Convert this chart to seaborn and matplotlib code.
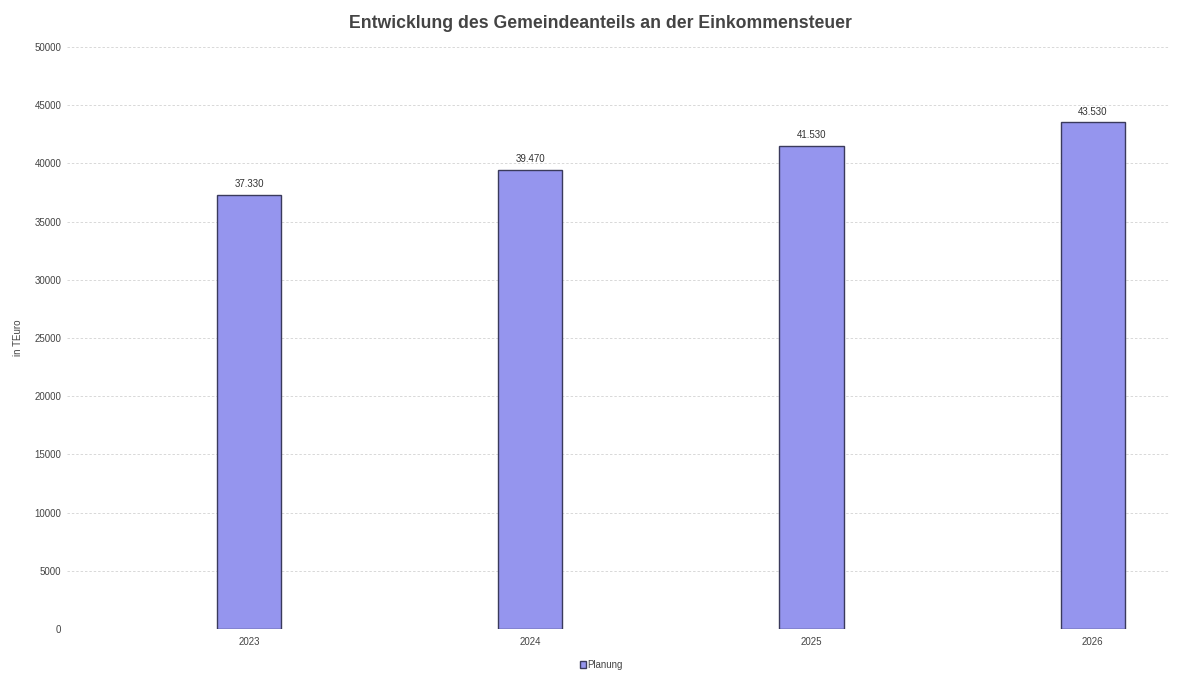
import matplotlib
matplotlib.use("Agg")
import matplotlib.pyplot as plt
import seaborn as sns
import pandas as pd
from matplotlib.patches import Patch

years = ["2023", "2024", "2025", "2026"]
planung = [37330, 39470, 41530, 43530]
y_ticks = list(range(0, 50001, 5000))
series_name = "Planung"
title = "Entwicklung des Gemeindeanteils an der Einkommensteuer"
y_label = "in TEuro"

df = pd.DataFrame({"Jahr": years, "Wert": planung})

sns.set_theme(style="white")
plt.rcParams["font.family"] = ["Liberation Sans", "DejaVu Sans"]

fig = plt.figure(figsize=(11.84, 6.73), dpi=100)
ax = fig.add_axes([0.0566, 0.0654, 0.9314, 0.8646])

bar_color = "#9595ee"
edge_color = "#3a3a5c"
sns.barplot(data=df, x="Jahr", y="Wert", ax=ax, color=bar_color,
            width=0.228, edgecolor=edge_color, linewidth=1.0, saturation=1)

ax.set_xlim(-0.647, 3.274)
ax.set_ylim(0, 50000)
ax.set_yticks(y_ticks)
ax.set_yticklabels([str(v) for v in y_ticks])
ax.yaxis.grid(True, linestyle=(0, (2.5, 2)), color="#d8d8d8", linewidth=0.7)
ax.set_axisbelow(True)
for s in ax.spines.values():
    s.set_visible(False)
ax.tick_params(axis="both", length=0, labelsize=7, labelcolor="#444444")
ax.tick_params(axis="y", pad=4)
ax.tick_params(axis="x", pad=6)
ax.set_xlabel("")
ax.set_ylabel(y_label, fontsize=7, color="#444444")
ax.yaxis.set_label_coords(-0.04, 0.5)

for i, v in enumerate(planung):
    ax.text(i, v + 500, f"{v:,}".replace(",", "."), ha="center", va="bottom",
            fontsize=7, color="#333333")

fig.suptitle(title, x=0.507, y=0.977, fontsize=12.7, fontweight="bold", color="#444444")

handles = [Patch(facecolor=bar_color, edgecolor=edge_color, label=series_name)]
fig.legend(handles=handles, loc="center", bbox_to_anchor=(0.508, 0.012),
           frameon=False, fontsize=7, handlelength=0.6, handleheight=0.6,
           handletextpad=0.2, labelcolor="#444444")

fig.savefig("out.png", dpi=100)
